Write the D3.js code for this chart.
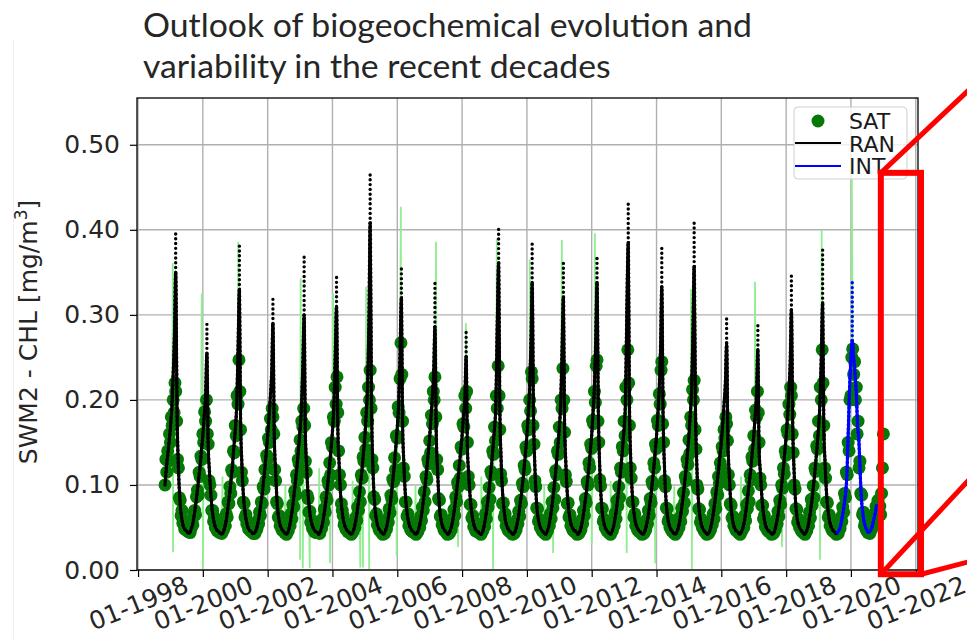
<!DOCTYPE html>
<html lang="en">
<head>
<meta charset="UTF-8" />
<title>SWM2 - CHL</title>
<script src="https://cdn.jsdelivr.net/npm/d3@7"></script>
<style>
  body { margin: 0; background: #fff; }
  svg { display: block; font-family: 'DejaVu Sans', sans-serif; }
  .title { font-family: Lato, 'Open Sans', sans-serif; fill: #262626; }
  .grid line { stroke: #b0b0b0; stroke-width: 1.4; }
  .axis text { font-size: 25px; fill: #262626; font-family: 'DejaVu Sans', sans-serif; }
  .axis line { stroke: #000; stroke-width: 1.2; }
  .legend text { font-size: 22px; fill: #1a1a1a; }
</style>
</head>
<body>
<svg width="967" height="639"></svg>
<script>
const titleLines = ['Outlook of biogeochemical evolution and', 'variability in the recent decades'];
const yTicks = [0, 0.1, 0.2, 0.3, 0.4, 0.5];
const xTickYears = d3.range(1998, 2023, 2);
const legendLabels = ['SAT', 'RAN', 'INT'];

// RAN: values on the 1st and 16th of each month, Nov 1998 .. Aug 2019
const ranStart = new Date(1998, 10, 1);
const ranValues = [
  .10,.12,.135,.15,.168,.19,.23,.28,.35,.19,.12,.085,.066,.056,.05,.047,
  .046,.044,.043,.046,.051,.058,.068,.08,.094,.108,.122,.14,.158,.18,.205,.255,.15,.115,.088,.07,.059,.052,.048,.046,
  .045,.043,.042,.044,.049,.056,.066,.078,.092,.108,.124,.145,.165,.192,.26,.33,.18,.125,.09,.072,.06,.053,.048,.046,
  .045,.043,.043,.045,.05,.057,.066,.078,.09,.105,.12,.138,.158,.18,.205,.235,.29,.16,.115,.082,.064,.055,.05,.047,
  .045,.043,.042,.044,.05,.058,.068,.08,.095,.11,.126,.145,.165,.19,.24,.30,.165,.122,.09,.072,.06,.053,.049,.046,
  .045,.044,.042,.045,.05,.057,.067,.079,.093,.108,.125,.143,.163,.19,.25,.31,.17,.125,.09,.072,.06,.053,.049,.046,
  .045,.043,.042,.044,.049,.056,.065,.077,.09,.105,.12,.138,.158,.185,.22,.30,.408,.20,.12,.085,.066,.056,.05,.047,
  .045,.043,.042,.045,.05,.058,.068,.08,.095,.11,.127,.146,.168,.195,.255,.32,.175,.125,.09,.072,.06,.053,.049,.046,
  .045,.043,.042,.044,.049,.056,.065,.077,.09,.105,.12,.138,.157,.18,.205,.235,.286,.16,.115,.082,.064,.055,.05,.047,
  .045,.043,.042,.045,.05,.057,.067,.079,.093,.107,.122,.14,.158,.18,.2,.251,.145,.112,.086,.07,.059,.052,.048,.046,
  .045,.043,.042,.044,.05,.058,.068,.08,.095,.11,.127,.146,.167,.195,.29,.361,.195,.13,.092,.073,.06,.053,.049,.046,
  .045,.043,.042,.044,.049,.056,.065,.077,.09,.105,.12,.138,.158,.183,.215,.27,.338,.185,.12,.085,.066,.056,.05,.047,
  .045,.043,.042,.045,.05,.058,.068,.08,.095,.11,.127,.146,.167,.195,.257,.321,.175,.125,.09,.072,.06,.053,.049,.046,
  .046,.044,.042,.044,.049,.057,.066,.078,.091,.106,.121,.139,.159,.184,.216,.272,.338,.186,.12,.085,.066,.056,.05,.047,
  .045,.043,.042,.045,.05,.058,.068,.08,.095,.11,.127,.146,.167,.2,.31,.385,.2,.13,.092,.073,.06,.053,.049,.046,
  .045,.043,.042,.044,.049,.056,.065,.077,.09,.105,.12,.138,.158,.183,.215,.265,.333,.18,.12,.085,.066,.056,.05,.047,
  .045,.043,.042,.044,.049,.056,.065,.077,.09,.105,.12,.138,.158,.183,.215,.285,.357,.19,.12,.085,.066,.056,.05,.047,
  .045,.043,.042,.044,.049,.056,.065,.077,.09,.104,.118,.134,.15,.17,.195,.22,.267,.15,.11,.08,.063,.054,.049,.046,
  .045,.043,.042,.045,.05,.057,.067,.079,.093,.107,.122,.14,.158,.18,.207,.259,.145,.115,.088,.07,.059,.052,.048,.046,
  .045,.043,.042,.044,.049,.056,.065,.077,.09,.105,.12,.138,.157,.18,.21,.245,.306,.17,.115,.082,.064,.055,.05,.047,
  .045,.043,.042,.045,.05,.058,.068,.08,.095,.11,.127,.146,.167,.195,.25,.314,.17,.125,.09,.072,.06,.053,.049,.046,
  .045,.043,.044
];
// top of the dotted spike of each bloom, 1999 .. 2019
const ranTips = [.40,.29,.385,.322,.369,.345,.465,.355,.341,.284,.402,.385,.365,.37,.433,.38,.41,.30,.292,.347,.38];

// INT: 1st and 16th of each month, Aug 2019 .. Oct 2020
const intStart = new Date(2019, 7, 1);
const intValues = [
  .044,.046,.05,.057,.066,.076,.09,.11,.16,.21,.25,.27,.25,.23,.21,.17,.15,.11,.08,.065,.055,.05,.046,.044,
  .045,.048,.053,.06,.067,.076
];
const intTip = 0.339;

// SAT: values on the 1st, 11th and 21st of each month, Nov 1998 .. Jan 2021
const satStart = new Date(1998, 10, 1);
const satValues = [
  .10,.13,.115, .14,.128,.16, .15,.18,.17, .20,.185,.22, .21,.175,.13, .12,.085,.082, .064,.07,.055, .058,.048,.052,
  .047,.052,.045, .05,.044,.049, .058,.053,.066, .07,.065,.086, .094,.088,.115, .11,.134,.13, .16,.15,.186, .175,.20,.16, .148,.105,.10, .088,.07,.07, .057,.062,.05, .055,.046,.05,
  .05,.044,.048, .043,.05,.047, .056,.052,.066, .062,.08,.078, .098,.09,.118, .115,.14,.138, .17,.158,.205, .195,.247,.21, .165,.115,.105, .08,.078,.062, .065,.054,.057, .048,.052,.046,
  .046,.05,.043, .047,.043,.05, .048,.058,.054, .068,.064,.08, .078,.098,.095, .118,.105,.135, .13,.155,.15, .178,.165,.19, .18,.16,.118, .105,.08,.078, .062,.064,.052, .056,.047,.051,
  .05,.044,.047, .042,.049,.046, .056,.052,.066, .06,.077,.074, .093,.088,.112, .105,.13,.125, .153,.14,.175, .168,.19,.17, .128,.115,.088, .084,.068,.069, .056,.059,.049, .053,.045,.049,
  .044,.05,.046, .047,.043,.052, .049,.06,.056, .072,.068,.086, .082,.105,.10, .126,.112,.15, .145,.18,.175, .215,.195,.227, .185,.14,.112, .10,.078,.07, .064,.053,.056, .048,.052,.045,
  .049,.044,.047, .042,.048,.045, .055,.05,.062, .058,.074,.07, .092,.08,.112, .108,.133,.128, .156,.142,.185, .175,.215,.20, .235,.19,.13, .12,.086,.083, .064,.066,.053, .057,.047,.051,
  .045,.05,.042, .047,.043,.052, .048,.06,.056, .072,.067,.088, .083,.107,.104, .132,.118,.158, .155,.192,.185, .225,.267,.23, .175,.12,.11, .08,.08,.063, .066,.052,.057, .047,.051,.045,
  .05,.044,.047, .042,.049,.045, .056,.05,.063, .058,.074,.07, .092,.08,.11, .106,.13,.125, .152,.138,.182, .172,.21,.20, .227,.18,.13, .118,.084,.082, .063,.065,.053, .056,.047,.051,
  .045,.05,.042, .048,.043,.052, .047,.06,.055, .071,.064,.086, .08,.103,.098, .123,.108,.145, .142,.172,.168, .205,.19,.21, .15,.11,.10, .077,.077,.061, .064,.051,.056, .046,.051,.045,
  .05,.044,.047, .042,.05,.046, .056,.051,.066, .06,.08,.074, .097,.083,.116, .112,.14,.136, .168,.152,.205, .19,.24,.205, .165,.113,.105, .078,.079,.062, .066,.052,.057, .047,.051,.045,
  .045,.05,.042, .047,.043,.051, .047,.059,.054, .069,.063,.082, .078,.102,.098, .123,.118,.145, .14,.17,.165, .20,.187,.233, .225,.17,.148, .105,.098,.073, .072,.057,.06, .05,.054,.046,
  .05,.044,.047, .042,.05,.046, .057,.052,.066, .06,.08,.073, .097,.083,.117, .112,.14,.136, .168,.15,.20, .19,.237,.20, .162,.112,.104, .078,.079,.062, .065,.052,.057, .047,.051,.045,
  .045,.05,.042, .047,.043,.051, .047,.059,.054, .07,.064,.084, .079,.104,.10, .126,.12,.148, .143,.176,.172, .21,.197,.24, .247,.175,.15, .106,.099,.073, .072,.057,.06, .05,.054,.046,
  .05,.044,.047, .042,.05,.046, .057,.052,.067, .06,.082,.075, .098,.085,.12, .115,.145,.14, .175,.158,.215, .20,.259,.22, .17,.12,.108, .08,.08,.062, .066,.052,.057, .047,.051,.045,
  .045,.05,.042, .047,.043,.051, .047,.059,.054, .07,.064,.084, .079,.104,.10, .126,.12,.148, .143,.176,.17, .207,.195,.235, .245,.172,.15, .105,.098,.073, .072,.057,.06, .05,.054,.046,
  .049,.044,.047, .042,.048,.045, .055,.05,.062, .057,.073,.069, .091,.079,.11, .105,.13,.124, .153,.137,.18, .17,.212,.20, .223,.165,.142, .10,.095,.072, .071,.056,.06, .05,.054,.046,
  .045,.05,.042, .047,.043,.05, .047,.058,.053, .066,.06,.078, .072,.092,.088, .11,.102,.126, .12,.145,.14, .165,.155,.18, .172,.152,.112, .10,.078,.076, .061,.063,.052, .055,.047,.05,
  .05,.044,.047, .042,.05,.046, .054,.05,.064, .058,.077,.072, .093,.08,.112, .106,.133,.128, .158,.142,.188, .18,.21,.185, .15,.108,.10, .076,.076,.06, .064,.051,.056, .047,.051,.045,
  .045,.05,.042, .047,.043,.051, .047,.059,.054, .069,.063,.082, .077,.10,.096, .12,.113,.14, .135,.165,.16, .195,.183,.215, .205,.16,.138, .10,.095,.072, .071,.056,.06, .05,.054,.046,
  .05,.044,.047, .042,.05,.046, .057,.052,.068, .061,.083,.076, .099,.085,.12, .116,.146,.142, .175,.158,.215, .20,.259,.22, .17,.12,.108, .08,.079,.062, .065,.052,.057, .047,.051,.045,
  .045,.05,.042, .048,.043,.053, .049,.062,.057, .074,.068,.09, .085,.115,.112, .15,.14,.20, .205,.25,.26, .23,.245,.20, .215,.16,.175, .12,.128,.09, .088,.065,.068, .052,.056,.047,
  .05,.044,.047, .043,.05,.048, .058,.054,.066, .062,.075,.07, .082,.068,.075, .065,.09,.12, .16
];
// isolated daily values of the light green line (up and down spikes)
const satSpikes = [
  ['1999-01-27', .361], ['1999-01-30', .021], ['1999-12-20', .325], ['2000-01-01', .002], ['2000-08-10', .11],
  ['2001-02-03', .386], ['2002-07-20', .10], ['2003-01-01', .012], ['2003-01-08', .343], ['2003-02-01', .002],
  ['2003-04-20', .002], ['2003-08-05', .12], ['2003-12-05', .008], ['2004-01-08', .325], ['2004-08-15', .105],
  ['2004-11-10', .003], ['2004-12-10', .003], ['2005-01-15', .333], ['2005-02-18', .0], ['2005-12-25', .016],
  ['2006-02-10', .427], ['2006-07-25', .10], ['2007-03-13', .386], ['2007-11-17', .027], ['2008-02-13', .29],
  ['2008-08-05', .11], ['2008-12-15', .0], ['2009-01-26', .39], ['2010-02-01', .365], ['2010-07-15', .10],
  ['2010-10-23', .02], ['2011-01-30', .388], ['2012-01-01', .03], ['2012-02-06', .396], ['2012-08-01', .105],
  ['2013-01-30', .02], ['2013-12-17', .008], ['2014-07-20', .10], ['2015-02-03', .0], ['2015-01-25', .33],
  ['2016-08-10', .11], ['2017-01-15', .339], ['2017-11-14', .027], ['2019-01-18', .012], ['2019-02-05', .40],
  ['2020-01-11', .46]
];

const svg = d3.select('svg');
const plot = { left: 137, right: 918, top: 98, bottom: 570 };

const x = d3.scaleTime()
  .domain([new Date(1997, 11, 20), new Date(2022, 0, 26)])
  .range([plot.left, plot.right]);
const y = d3.scaleLinear().domain([0, 0.555]).range([plot.bottom, plot.top]);

const semiMonth = (start, i) =>
  new Date(start.getFullYear(), start.getMonth() + Math.floor(i / 2), i % 2 ? 16 : 1);
const tenDay = (start, i) =>
  new Date(start.getFullYear(), start.getMonth() + Math.floor(i / 3), 1 + 10 * (i % 3));

const ran = ranValues.map((v, i) => ({ date: semiMonth(ranStart, i), value: v }));
const int = intValues.map((v, i) => ({ date: semiMonth(intStart, i), value: v }));
const sat = satValues.map((v, i) => ({ date: tenDay(satStart, i), value: v }));
const spikes = satSpikes.map(([d, v]) => ({ date: d3.timeParse('%Y-%m-%d')(d), value: v }));
const satLine = sat.concat(spikes).sort((a, b) => a.date - b.date);

const seasonOf = (d) => d.getFullYear() + (d.getMonth() >= 6 ? 1 : 0);
const ranPeaks = d3.groups(ran, (d) => seasonOf(d.date))
  .slice(0, ranTips.length)
  .map(([s, pts], k) => {
    const top = d3.greatest(pts, (p) => p.value);
    return { date: top.date, from: top.value, to: ranTips[k] };
  });
const intTop = d3.greatest(int, (p) => p.value);

svg.append('defs').append('clipPath').attr('id', 'clip')
  .append('rect')
  .attr('x', plot.left).attr('y', plot.top)
  .attr('width', plot.right - plot.left).attr('height', plot.bottom - plot.top);

// faint edge of the pasted figure
svg.append('line').attr('x1', 13.5).attr('x2', 13.5).attr('y1', 40).attr('y2', 639)
  .attr('stroke', '#efefef').attr('stroke-width', 1);

// grid
const xTickDates = xTickYears.map((yr) => new Date(yr, 0, 1));
const grid = svg.append('g').attr('class', 'grid');
grid.selectAll('.gx').data(xTickDates).join('line')
  .attr('x1', (d) => x(d)).attr('x2', (d) => x(d))
  .attr('y1', plot.top).attr('y2', plot.bottom);
grid.selectAll('.gy').data(yTicks).join('line')
  .attr('x1', plot.left).attr('x2', plot.right)
  .attr('y1', (d) => y(d)).attr('y2', (d) => y(d));

const data = svg.append('g').attr('clip-path', 'url(#clip)');

const smooth = d3.line().x((d) => x(d.date)).y((d) => y(d.value)).curve(d3.curveMonotoneX);
const straight = d3.line().x((d) => x(d.date)).y((d) => y(d.value));

// light green daily line
data.append('path').datum(satLine)
  .attr('d', straight)
  .attr('fill', 'none').attr('stroke', '#90ee90').attr('stroke-width', 1.8);

// SAT dots
data.selectAll('.sat').data(sat).join('circle')
  .attr('cx', (d) => x(d.date)).attr('cy', (d) => y(d.value))
  .attr('r', 6.5).attr('fill', '#067806');

function drawRun(series, peaks, color) {
  data.append('path').datum(series)
    .attr('d', smooth)
    .attr('fill', 'none').attr('stroke', color).attr('stroke-width', 3);
  data.append('path').datum(series)
    .attr('d', smooth)
    .attr('fill', 'none').attr('stroke', color).attr('stroke-width', 3.6)
    .attr('stroke-linecap', 'round').attr('stroke-dasharray', '0 4.2');
  data.selectAll(null).data(peaks).join('line')
    .attr('x1', (d) => x(d.date)).attr('x2', (d) => x(d.date))
    .attr('y1', (d) => y(d.from)).attr('y2', (d) => y(d.to))
    .attr('stroke', color).attr('stroke-width', 3.4)
    .attr('stroke-linecap', 'round').attr('stroke-dasharray', '0 4.8');
}
drawRun(ran, ranPeaks, '#000');
drawRun(int, [{ date: intTop.date, from: intTop.value, to: intTip }], '#0000ff');

// axes
const yAxis = svg.append('g').attr('class', 'axis')
  .attr('transform', `translate(${plot.left},0)`)
  .call(d3.axisLeft(y).tickValues(yTicks).tickFormat(d3.format('.2f')).tickSize(7).tickPadding(10));
yAxis.select('.domain').remove();

const xAxis = svg.append('g').attr('class', 'axis')
  .attr('transform', `translate(0,${plot.bottom})`)
  .call(d3.axisBottom(x).tickValues(xTickDates).tickFormat(d3.timeFormat('%m-%Y')).tickSize(7));
xAxis.select('.domain').remove();
xAxis.selectAll('text')
  .attr('y', 0).attr('dy', '0.35em')
  .attr('text-anchor', 'middle')
  .attr('transform', 'translate(0,33) rotate(-22)');

svg.append('rect')
  .attr('x', plot.left).attr('y', plot.top)
  .attr('width', plot.right - plot.left).attr('height', plot.bottom - plot.top)
  .attr('fill', 'none').attr('stroke', '#000').attr('stroke-width', 1.3);

// y label
const yLabel = svg.append('text')
  .attr('transform', 'translate(37,332) rotate(-90)')
  .attr('text-anchor', 'middle')
  .attr('font-size', 25).attr('fill', '#262626');
yLabel.append('tspan').text('SWM2 - CHL [mg/m');
yLabel.append('tspan').attr('baseline-shift', 'super').attr('font-size', 17).text('3');
yLabel.append('tspan').text(']');

// legend
const legend = svg.append('g').attr('class', 'legend');
legend.append('rect')
  .attr('x', 794).attr('y', 107).attr('width', 113).attr('height', 72).attr('rx', 4)
  .attr('fill', '#fff').attr('fill-opacity', 0.8).attr('stroke', '#cfcfcf');
legend.append('circle').attr('cx', 818).attr('cy', 121).attr('r', 6.5).attr('fill', '#067806');
legend.append('line').attr('x1', 795).attr('x2', 841).attr('y1', 143).attr('y2', 143)
  .attr('stroke', '#000').attr('stroke-width', 2);
legend.append('line').attr('x1', 795).attr('x2', 841).attr('y1', 166).attr('y2', 166)
  .attr('stroke', '#0000ff').attr('stroke-width', 2);
legend.selectAll('.lab').data(legendLabels).join('text')
  .attr('x', 849).attr('y', (d, i) => 129 + i * 22.5)
  .text((d) => d);

// red zoom callout
const box = { from: new Date(2020, 11, 3), to: new Date(2022, 2, 1), top: 0.467, bottom: -0.005 };
const bx0 = x(box.from), bx1 = x(box.to), by0 = y(box.top), by1 = y(box.bottom);
const red = svg.append('g').attr('stroke', '#ff0000').attr('fill', 'none');
red.append('rect').attr('x', bx0).attr('y', by0).attr('width', bx1 - bx0).attr('height', by1 - by0)
  .attr('stroke-width', 6);
[[bx0, by0, 85, -80], [bx0, by1, 84, -90], [bx1, by1, 46, -12]].forEach(([sx, sy, dx, dy]) => {
  red.append('line').attr('x1', sx).attr('y1', sy)
    .attr('x2', sx + dx * 2).attr('y2', sy + dy * 2)
    .attr('stroke-width', 5);
});

// title
const title = svg.append('g').attr('class', 'title');
const titleTexts = title.selectAll('text').data(titleLines).join('text')
  .attr('x', 143).attr('y', (d, i) => 37 + i * 41)
  .attr('font-size', 32)
  .text((d) => d);
const w0 = titleTexts.nodes()[0].getComputedTextLength();
titleTexts.attr('font-size', 32 * 609 / w0);
</script>
</body>
</html>
